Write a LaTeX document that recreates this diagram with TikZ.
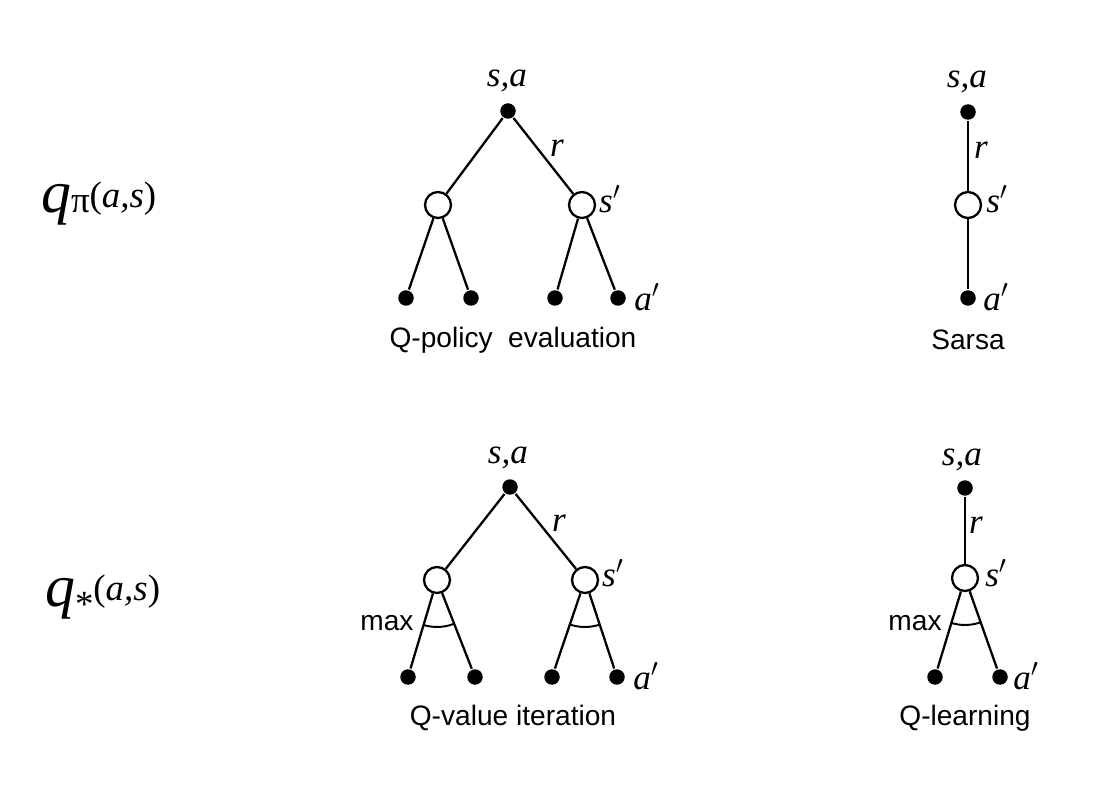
\documentclass[tikz,border=0pt]{standalone}
\usepackage{fontspec}
\setmainfont{Liberation Serif}
\setsansfont{Liberation Sans}
\usetikzlibrary{angles}

\begin{document}
\begin{tikzpicture}[x=0.02cm,y=-0.02cm,line width=1.3pt,
    act/.style={circle,fill=black,inner sep=0pt,minimum size=0.31cm},
    st/.style={circle,draw,fill=white,inner sep=0pt,minimum size=0.52cm},
    lab/.style={font=\fontsize{20}{20}\selectfont\itshape},
    algname/.style={font=\sffamily\fontsize{16}{16}\selectfont},
    mx/.style={draw,line width=1.1pt,angle radius=0.94cm}]
    \useasboundingbox (0,0) rectangle (1120,787);

    % row labels
    \node[anchor=base west,inner sep=0pt] (qpi) at (40,213)
        {{\fontsize{34}{34}\selectfont\itshape q}{\fontsize{21}{21}\selectfont π\raisebox{3pt}{(\textit{a,s})}}};
    \node[anchor=base west,inner sep=0pt] (qstar) at (44,606)
        {{\fontsize{34}{34}\selectfont\itshape q}{\fontsize{21}{21}\selectfont\raisebox{-6pt}{*}\raisebox{3pt}{(\textit{a,s})}}};

    % Q-policy evaluation
    \node[act] (r1) at (508,111) {};
    \node[st] (s1) at (438,205) {};
    \node[st] (s2) at (582,205) {};
    \node[act] (l1) at (406,298) {};
    \node[act] (l2) at (471,298) {};
    \node[act] (l3) at (555,298) {};
    \node[act] (l4) at (618,298) {};
    \draw (r1) -- (s1) (r1) -- (s2);
    \draw (s1) -- (l1) (s1) -- (l2) (s2) -- (l3) (s2) -- (l4);
    \node[lab] (sa1) at (507,81) {s,a};
    \node[lab] (rw1) at (557,148) {r};
    \node[lab] (sp1) at (610,199) {s$'$};
    \node[lab] (ap1) at (647,297) {a$'$};
    \node[algname] (c1) at (513,340) {Q-policy\ \ evaluation};

    % Sarsa
    \node[act] (r2) at (968,112) {};
    \node[st] (s3) at (968,205) {};
    \node[act] (l5) at (968,298) {};
    \draw (r2) -- (s3) -- (l5);
    \node[lab] (sa2) at (967,82) {s,a};
    \node[lab] (rw2) at (981,150) {r};
    \node[lab] (sp2) at (997,199) {s$'$};
    \node[lab] (ap2) at (996,297) {a$'$};
    \node[algname] (c2) at (968,340) {Sarsa};

    % Q-value iteration
    \node[act] (r3) at (510,487) {};
    \node[st] (s4) at (437,580) {};
    \node[st] (s5) at (585,580) {};
    \node[act] (l6) at (408,677) {};
    \node[act] (l7) at (475,677) {};
    \node[act] (l8) at (552,677) {};
    \node[act] (l9) at (617,677) {};
    \draw (r3) -- (s4) (r3) -- (s5);
    \draw (s4) -- (l6) (s4) -- (l7) (s5) -- (l8) (s5) -- (l9);
    \pic[mx] {angle=l6--s4--l7};
    \pic[mx] {angle=l8--s5--l9};
    \node[lab] (sa3) at (508,458) {s,a};
    \node[lab] (rw3) at (559,523) {r};
    \node[lab] (sp3) at (613,573) {s$'$};
    \node[lab] (ap3) at (646,676) {a$'$};
    \node[algname] (m1) at (387,623) {max};
    \node[algname] (c3) at (513,718) {Q-value iteration};

    % Q-learning
    \node[act] (r4) at (965,488) {};
    \node[st] (s6) at (965,578) {};
    \node[act] (l10) at (935,677) {};
    \node[act] (l11) at (1000,677) {};
    \draw (r4) -- (s6);
    \draw (s6) -- (l10) (s6) -- (l11);
    \pic[mx] {angle=l10--s6--l11};
    \node[lab] (sa4) at (962,460) {s,a};
    \node[lab] (rw4) at (976,525) {r};
    \node[lab] (sp4) at (996,573) {s$'$};
    \node[lab] (ap4) at (1026,676) {a$'$};
    \node[algname] (m2) at (915,623) {max};
    \node[algname] (c4) at (965,718) {Q-learning};
\end{tikzpicture}
\end{document}
